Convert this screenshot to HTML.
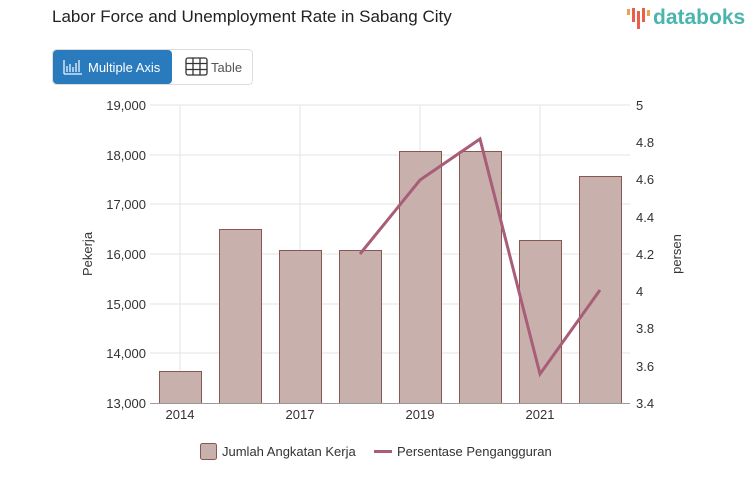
<!DOCTYPE html>
<html><head><style>
body{margin:0;width:753px;height:498px;background:#fff;font-family:"Liberation Sans",sans-serif;overflow:hidden}
</style></head><body>
<svg width="753" height="498" xmlns="http://www.w3.org/2000/svg" font-family="Liberation Sans, sans-serif">
<text x="52" y="22" font-size="17" fill="#222">Labor Force and Unemployment Rate in Sabang City</text>
<g>
<rect x="627" y="9" width="3" height="6" fill="#f0a050"/><rect x="632" y="8" width="3" height="14" fill="#e8604c"/><rect x="637" y="11" width="3" height="18" fill="#e8604c"/><rect x="642" y="8" width="3" height="14" fill="#e8604c"/><rect x="647" y="10" width="3" height="6" fill="#f0a050"/>
<text x="653" y="24" font-size="21" font-weight="bold" fill="#4ab5ad">databoks</text>
</g>
<rect x="52.5" y="49.5" width="200" height="35" rx="4" fill="#fff" stroke="#ddd"/>
<rect x="53" y="50" width="119" height="34" rx="4" fill="#2a7bbd"/>
<path d="M64 74 V60 M64 74 H82 M67 72 V66 M70 72 V64 M73 72 V67 M76 72 V63 M79 72 V60" stroke="#cfe3f5" stroke-width="1.5" fill="none"/>
<text x="88" y="72" font-size="13" fill="#fff">Multiple Axis</text>
<g stroke="#333" stroke-width="1.3" fill="none"><rect x="186" y="58" width="21" height="17" rx="2"/><path d="M193 58V75M200 58V75M186 63.5H207M186 69.5H207"/></g>
<text x="211" y="72" font-size="13" fill="#555">Table</text>
<g stroke="#e3e3e3" stroke-width="1">
<line x1="150" y1="105" x2="630" y2="105"/><line x1="150" y1="155" x2="630" y2="155"/><line x1="150" y1="204" x2="630" y2="204"/><line x1="150" y1="254" x2="630" y2="254"/><line x1="150" y1="304" x2="630" y2="304"/><line x1="150" y1="353" x2="630" y2="353"/>
<line x1="180" y1="105" x2="180" y2="403"/><line x1="300" y1="105" x2="300" y2="403"/><line x1="420" y1="105" x2="420" y2="403"/><line x1="540" y1="105" x2="540" y2="403"/>
</g>
<g fill="#c8b1ad" stroke="#8b5550" stroke-width="1">
<rect x="159.5" y="371.5" width="42" height="32"/>
<rect x="219.5" y="229.5" width="42" height="174"/>
<rect x="279.5" y="250.5" width="42" height="153"/>
<rect x="339.5" y="250.5" width="42" height="153"/>
<rect x="399.5" y="151.5" width="42" height="252"/>
<rect x="459.5" y="151.5" width="42" height="252"/>
<rect x="519.5" y="240.5" width="42" height="163"/>
<rect x="579.5" y="176.5" width="42" height="227"/>
</g>
<line x1="150" y1="403.5" x2="630" y2="403.5" stroke="#999"/>
<polyline points="360,254 420,180 480,139 540,374 600,290" fill="none" stroke="#a85d78" stroke-width="3" stroke-linejoin="miter"/>
<g font-size="13" fill="#333" text-anchor="end">
<text x="146" y="110">19,000</text><text x="146" y="160">18,000</text><text x="146" y="209">17,000</text><text x="146" y="259">16,000</text><text x="146" y="309">15,000</text><text x="146" y="358">14,000</text><text x="146" y="408">13,000</text>
</g>
<g font-size="13" fill="#333">
<text x="636" y="110">5</text><text x="636" y="147">4.8</text><text x="636" y="184">4.6</text><text x="636" y="222">4.4</text><text x="636" y="259">4.2</text><text x="636" y="296">4</text><text x="636" y="333">3.8</text><text x="636" y="371">3.6</text><text x="636" y="408">3.4</text>
</g>
<g font-size="13" fill="#333" text-anchor="middle">
<text x="180" y="419">2014</text><text x="300" y="419">2017</text><text x="420" y="419">2019</text><text x="540" y="419">2021</text>
</g>
<text transform="translate(92,254) rotate(-90)" font-size="13" fill="#333" text-anchor="middle">Pekerja</text>
<text transform="translate(681,254) rotate(-90)" font-size="13" fill="#333" text-anchor="middle">persen</text>
<rect x="200.5" y="443.5" width="16" height="16" rx="2" fill="#c8b1ad" stroke="#8b5550"/>
<text x="222" y="456" font-size="13" fill="#333">Jumlah Angkatan Kerja</text>
<line x1="374" y1="451.5" x2="392" y2="451.5" stroke="#a85d78" stroke-width="3"/>
<text x="397" y="456" font-size="13" fill="#333">Persentase Pengangguran</text>
</svg>
</body></html>
